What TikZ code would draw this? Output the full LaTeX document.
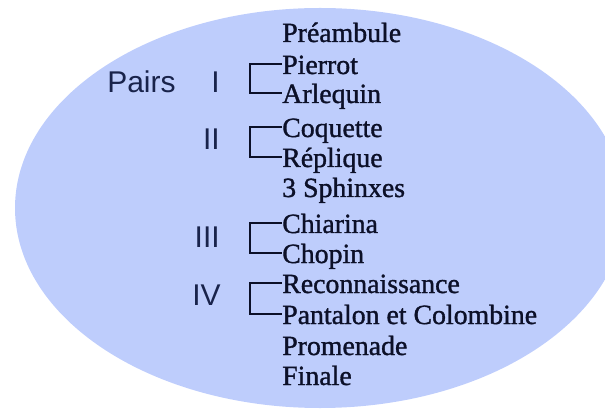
\documentclass[tikz,border=0pt]{standalone}
\usepackage{fontspec}
\setmainfont{Liberation Serif}
\newfontfamily\serfat[FakeBold=1.2]{Liberation Serif}
\newfontfamily\sansf{Liberation Sans}
\definecolor{ellfill}{RGB}{190,205,252}
\definecolor{inkser}{RGB}{12,16,40}
\definecolor{inksans}{RGB}{25,35,75}
\begin{document}
\begin{tikzpicture}[x=0.75pt,y=-0.75pt,
  item/.style={inner sep=0pt, anchor=base west, text height=15pt, text depth=0pt,
    font=\serfat\fontsize{20.85}{24}\selectfont, text=inkser},
  num/.style={inner sep=0pt, anchor=base east, font=\sansf\fontsize{22.5}{26}\selectfont, text=inksans},
  brk/.style={draw=inkser, line width=1.2pt}]
\useasboundingbox (0,0) rectangle (605,409);
\clip (0,0) rectangle (605,409);
\fill[ellfill] (320,208) ellipse [x radius=228.75pt, y radius=150pt];
% pieces
\node[item] (pre) at (282,42) {Préambule};
\node[item] (pie) at (282,74) {Pierrot};
\node[item] (arl) at (282,103) {Arlequin};
\node[item] (coq) at (282,137) {Coquette};
\node[item] (rep) at (282,167) {Réplique};
\node[item] (sph) at (282,197) {3 Sphinxes};
\node[item] (chi) at (282,233) {Chiarina};
\node[item] (cho) at (282,263) {Chopin};
\node[item] (rec) at (282,293) {Reconnaissance};
\node[item] (pan) at (282,324) {Pantalon et Colombine};
\node[item] (pro) at (282,355) {Promenade};
\node[item] (fin) at (282,385) {Finale};
% labels
\node[num, anchor=base west] (pairs) at (107,93) {Pairs};
\node[num] (n1) at (220,93) {I};
\node[num] (n2) at (220,150) {II};
\node[num] (n3) at (220,247) {III};
\node[num] (n4) at (221,305) {IV};
% brackets
\draw[brk] (pie.west) -- ++(-32,0) |- (arl.west);
\draw[brk] (coq.west) -- ++(-32,0) |- (rep.west);
\draw[brk] (chi.west) -- ++(-32,0) |- (cho.west);
\draw[brk] (rec.west) -- ++(-32,0) |- (pan.west);
\end{tikzpicture}
\end{document}
